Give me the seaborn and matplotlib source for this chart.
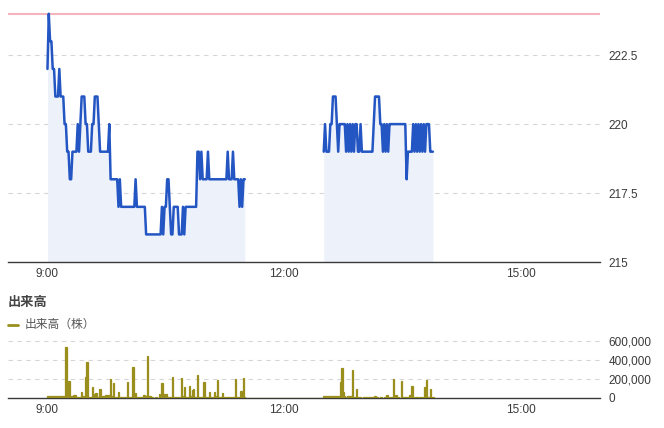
import numpy as np
import pandas as pd
import matplotlib
matplotlib.use('Agg')
import matplotlib.pyplot as plt
import seaborn as sns

sns.set_theme(style='white')
plt.rcParams['font.family'] = ['Liberation Sans', 'Noto Sans CJK JP', 'DejaVu Sans']

# minutes after 9:00
am_start, pm_start = 0, 210
ref_price = 224

price_am = [222, 224, 223, 223, 222, 222, 221, 221, 221, 222,
            221, 221, 221, 220, 220, 219, 219, 218, 218, 219,
            219, 219, 219, 220, 219, 220, 221, 221, 221, 220,
            220, 219, 219, 219, 220, 220, 221, 221, 221, 220,
            219, 219, 219, 219, 219, 219, 219, 220, 218, 218,
            218, 218, 218, 218, 217, 218, 217, 217, 217, 217,
            217, 217, 217, 217, 217, 217, 217, 218, 217, 217,
            217, 217, 217, 217, 217, 216, 216, 216, 216, 216,
            216, 216, 216, 216, 216, 216, 216, 217, 216, 217,
            217, 218, 218, 217, 216, 216, 217, 217, 217, 217,
            216, 216, 216, 217, 216, 217, 217, 217, 217, 217,
            217, 217, 217, 217, 219, 219, 218, 219, 218, 218,
            218, 218, 219, 218, 218, 218, 218, 218, 218, 218,
            218, 218, 218, 218, 218, 218, 218, 219, 218, 218,
            218, 219, 218, 218, 218, 218, 217, 218, 217, 218,
            218]
price_pm = [219, 220, 219, 219, 219, 220, 220, 221, 221, 221,
            220, 219, 220, 220, 220, 220, 220, 219, 220, 219,
            220, 219, 220, 219, 220, 220, 219, 219, 220, 219,
            219, 219, 219, 219, 219, 219, 219, 219, 220, 221,
            221, 221, 221, 220, 220, 219, 220, 219, 220, 219,
            220, 220, 220, 220, 220, 220, 220, 220, 220, 220,
            220, 220, 220, 218, 219, 219, 219, 219, 220, 219,
            220, 219, 220, 219, 220, 219, 220, 219, 220, 220,
            220, 219, 219, 219]

# volume in thousands of shares
vol_am = [25, 25, 25, 25, 25, 25, 25, 25, 25, 25,
          25, 25, 25, 25, 540, 180, 100, 180, 20, 20,
          30, 30, 10, 10, 8, 8, 64, 20, 10, 220,
          380, 14, 14, 14, 117, 20, 39, 53, 10, 8,
          92, 25, 25, 25, 32, 32, 32, 32, 198, 20,
          156, 10, 8, 8, 60, 10, 10, 8, 12, 8,
          10, 166, 10, 8, 12, 326, 20, 50, 12, 8,
          15, 10, 8, 32, 32, 20, 440, 20, 20, 7,
          7, 5, 7, 7, 5, 42, 10, 156, 10, 39,
          39, 10, 8, 6, 10, 220, 10, 15, 8, 10,
          12, 8, 209, 20, 113, 10, 8, 10, 127, 20,
          85, 92, 15, 10, 240, 10, 12, 8, 10, 163,
          10, 8, 12, 60, 10, 8, 12, 67, 20, 188,
          12, 8, 10, 53, 10, 8, 6, 8, 10, 8,
          6, 10, 15, 198, 10, 12, 8, 74, 15, 209,
          10]
vol_pm = [25, 25, 25, 25, 25, 25, 25, 25, 25, 25,
          25, 25, 25, 170, 319, 60, 20, 7, 25, 25,
          25, 25, 297, 10, 7, 92, 10, 7, 7, 5,
          7, 14, 14, 14, 14, 14, 14, 14, 14, 20,
          7, 7, 5, 7, 7, 5, 7, 7, 28, 7,
          5, 7, 7, 202, 10, 28, 7, 7, 5, 180,
          7, 7, 10, 7, 7, 32, 32, 127, 7, 5,
          7, 7, 5, 7, 7, 5, 7, 117, 184, 10,
          7, 96, 10, 7]

price_df = pd.concat([
    pd.DataFrame({'minute': np.arange(len(price_am)) + am_start, 'price': price_am, 'session': 'am'}),
    pd.DataFrame({'minute': np.arange(len(price_pm)) + pm_start, 'price': price_pm, 'session': 'pm'}),
])
vol_df = pd.concat([
    pd.DataFrame({'minute': np.arange(len(vol_am)) + am_start, 'volume': np.array(vol_am) * 1000}),
    pd.DataFrame({'minute': np.arange(len(vol_pm)) + pm_start, 'volume': np.array(vol_pm) * 1000}),
])

line_color = '#2456c3'
fill_color = '#edf1f9'
vol_color = '#9a8f1d'
grid_color = '#d6d6d6'
text_color = '#3a3a3a'

xticks = [0, 180, 360]
xlabels = ['9:00', '12:00', '15:00']

fig = plt.figure(figsize=(6.64, 4.28), dpi=100)
ax1 = fig.add_axes([8 / 664, 1 - 262 / 428, 592 / 664, 262 / 428])
ax2 = fig.add_axes([8 / 664, 1 - 398 / 428, 592 / 664, 59 / 428])


def style_axis(ax):
    for side in ['top', 'left', 'right']:
        ax.spines[side].set_visible(False)
    ax.spines['bottom'].set_color('#3a3a3a')
    ax.spines['bottom'].set_linewidth(1.0)
    ax.yaxis.tick_right()
    ax.tick_params(axis='y', length=0, pad=6, labelsize=8.5, labelcolor=text_color)
    ax.tick_params(axis='x', length=0, pad=4, labelsize=8.5, labelcolor=text_color)
    ax.set_xlim(-30, 420)
    ax.set_xticks(xticks)
    ax.set_xticklabels(xlabels)
    ax.set_xlabel('')
    ax.set_ylabel('')
    ax.grid(False)


# price panel
for session, part in price_df.groupby('session'):
    ax1.fill_between(part['minute'], part['price'], 215, color=fill_color, lw=0, zorder=1)
sns.lineplot(data=price_df, x='minute', y='price', units='session', estimator=None,
             color=line_color, linewidth=1.8, ax=ax1, zorder=3)
ax1.set_ylim(215, 224.5)
ax1.set_yticks([215, 217.5, 220, 222.5])
ax1.set_yticklabels(['215', '217.5', '220', '222.5'])
for y in [217.5, 220, 222.5]:
    ax1.axhline(y, color=grid_color, lw=0.8, ls=(0, (4, 4)), zorder=0)
ax1.axhline(ref_price, color='#f5b3bd', lw=1.5, zorder=2)
style_axis(ax1)

# volume panel
sns.histplot(data=vol_df, x='minute', weights='volume', discrete=True,
             color=vol_color, alpha=1, edgecolor=vol_color, linewidth=0.9,
             ax=ax2, zorder=3)
ax2.set_ylim(0, 620000)
ax2.set_yticks([0, 200000, 400000, 600000])
ax2.set_yticklabels(['0', '200,000', '400,000', '600,000'])
for y in [200000, 400000, 600000]:
    ax2.axhline(y, color=grid_color, lw=0.8, ls=(0, (4, 4)), zorder=0)
style_axis(ax2)

fig.text(8 / 664, 1 - 303 / 428, '出来高', fontsize=9.5, fontweight='bold',
         color='#444444', va='center', ha='left')
fig.add_artist(plt.Line2D([8 / 664, 18 / 664], [1 - 325 / 428, 1 - 325 / 428],
                          color=vol_color, lw=2))
fig.text(25 / 664, 1 - 325 / 428, '出来高（株）', fontsize=8.5, color='#555555',
         va='center', ha='left')

fig.savefig('out.png', dpi=100)
